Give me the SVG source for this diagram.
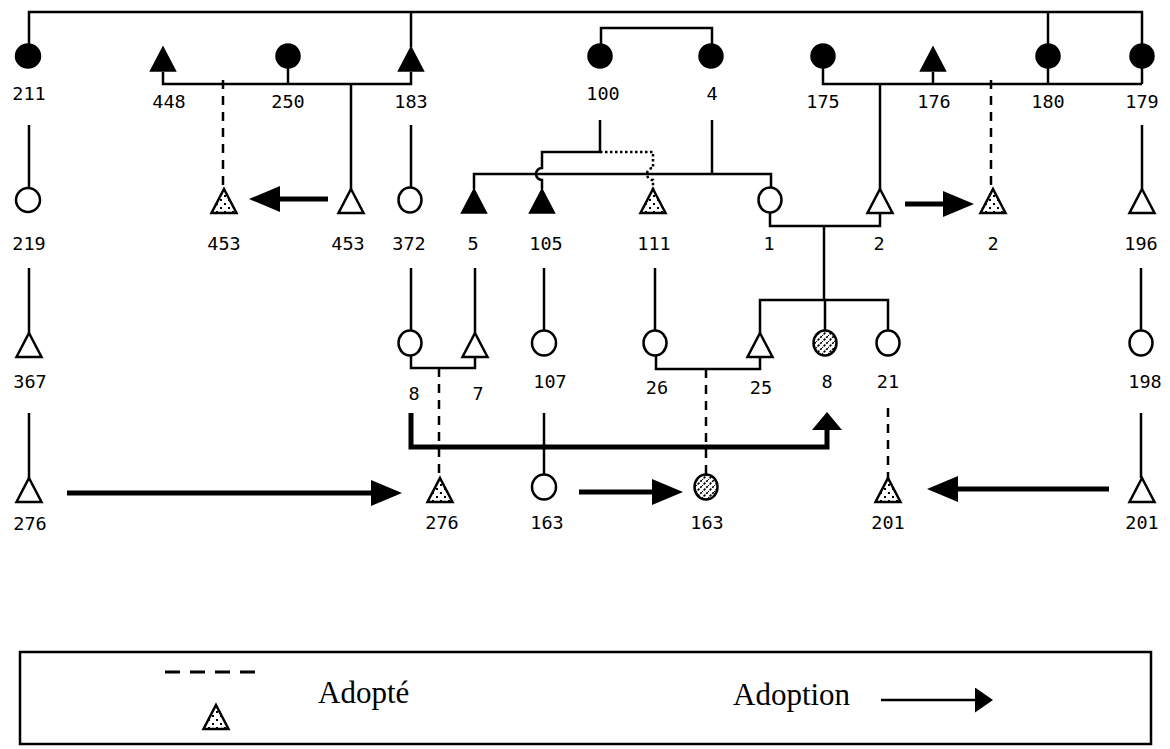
<svg xmlns="http://www.w3.org/2000/svg" xmlns:xlink="http://www.w3.org/1999/xlink" width="1170" height="749" viewBox="0 0 1170 749">
<style>
.ln{stroke:#000;stroke-width:2.5;fill:none}
.thick{stroke:#000;stroke-width:5;fill:none}
.arr{stroke:#000;stroke-width:5;fill:none;marker-end:url(#ah)}
.dash{stroke:#000;stroke-width:2.5;fill:none;stroke-dasharray:9 7}
.dot{stroke:#000;stroke-width:2.5;fill:none;stroke-dasharray:2.5 2.5}
.open{fill:#fff;stroke:#000;stroke-width:2.5}
.full{fill:#000;stroke:#000;stroke-width:1.5}
.hT{fill:url(#hatchT);stroke:#000;stroke-width:2.5}
.hC{fill:url(#hatchC);stroke:#000;stroke-width:2.5}
.lbl{font-family:"DejaVu Sans Mono","Liberation Mono",monospace;font-size:18.5px;text-anchor:middle;fill:#000}
.leg{font-family:"Liberation Serif","Times New Roman",serif;font-size:31px;fill:#000}
</style>
<defs>
<path id="tri" d="M0,0 L12.5,24 L-12.5,24 Z"/>
<pattern id="hatchT" patternUnits="userSpaceOnUse" width="8" height="8">
<rect width="8" height="8" fill="#fff"/>
<rect x="0" y="6" width="2" height="2" fill="#000"/>
<rect x="4" y="2" width="2" height="2" fill="#000"/>
</pattern>
<pattern id="hatchC" patternUnits="userSpaceOnUse" width="6" height="6">
<rect width="6" height="6" fill="#fff"/>
<path d="M-1,7 L7,-1" stroke="#000" stroke-width="1.6" stroke-dasharray="2.5 1.2"/>
</pattern>
<marker id="ah" markerUnits="userSpaceOnUse" viewBox="0 -13 31 26" refX="0" refY="0" markerWidth="31" markerHeight="26" orient="auto">
<path d="M0,-13 L31,0 L0,13 Z" fill="#000"/>
</marker>
<marker id="ahUp" markerUnits="userSpaceOnUse" viewBox="0 -15 18 30" refX="0" refY="0" markerWidth="18" markerHeight="30" orient="auto">
<path d="M0,-15 L18,0 L0,15 Z" fill="#000"/>
</marker>
<marker id="ahSm" markerUnits="userSpaceOnUse" viewBox="0 -12.5 18 25" refX="0" refY="0" markerWidth="18" markerHeight="25" orient="auto">
<path d="M0,-12.5 L18,0 L0,12.5 Z" fill="#000"/>
</marker>
</defs>
<rect width="1170" height="749" fill="#fff"/>

<g id="connectors">
<path class="ln" d="M29,44 V12 H1142 V84"/>
<path class="ln" d="M411,12 V47"/>
<path class="ln" d="M1048,12 V84"/>
<path class="ln" d="M163,72 V84 H411 V72"/>
<path class="ln" d="M288,68 V84"/>
<path class="ln" d="M351,84 V189"/>
<path class="dash" d="M223,80 V189"/>
<path class="ln" d="M601,44 V28 H712 V44"/>
<path class="ln" d="M823,68 V84 H1142"/>
<path class="ln" d="M933,72 V84"/>
<path class="ln" d="M880,84 V189"/>
<path class="dash" d="M991,80 V189"/>
<path class="ln" d="M29,125 V188"/>
<path class="ln" d="M411,125 V188"/>
<path class="ln" d="M1142,125 V189"/>
<path class="ln" d="M600,120 V152 H542 V168 A6,6 0 0 0 542,180 V189"/>
<path class="dot" d="M600,152 H653 V168 A6,6 0 0 0 653,180 V189"/>
<path class="ln" d="M712,120 V174"/>
<path class="ln" d="M474,189 V174 H771 V188"/>
<path class="ln" d="M770,212 V226 H880 V213"/>
<path class="ln" d="M824,226 V300"/>
<path class="ln" d="M760,333 V300 H888 V331"/>
<path class="ln" d="M825,300 V331"/>
<path class="ln" d="M29,268 V333"/>
<path class="ln" d="M411,268 V331"/>
<path class="ln" d="M475,268 V333"/>
<path class="ln" d="M544,268 V331"/>
<path class="ln" d="M655,268 V331"/>
<path class="ln" d="M1141,268 V331"/>
<path class="ln" d="M411,355 V368 H475 V357"/>
<path class="dash" d="M439,368 V478"/>
<path class="ln" d="M656,355 V369 H760 V357"/>
<path class="dash" d="M706,369 V475"/>
<path class="dash" d="M888,408 V478"/>
<path class="ln" d="M29,413 V478"/>
<path class="ln" d="M544,413 V475"/>
<path class="ln" d="M1141,413 V478"/>
<path class="thick" d="M411,413 V447 H827 V430" marker-end="url(#ahUp)"/>
<path class="arr" d="M328,199 H280"/>
<path class="arr" d="M905,204 H943"/>
<path class="arr" d="M67,493 H371"/>
<path class="arr" d="M579,492 H652"/>
<path class="arr" d="M1109,489 H958"/>
</g>

<g id="n211"><ellipse class="full" cx="28" cy="56" rx="12.5" ry="12"/><text class="lbl" x="29" y="100">211</text></g>
<g id="n448"><use href="#tri" xlink:href="#tri" class="full" x="163" y="47"/><text class="lbl" x="169" y="108">448</text></g>
<g id="n250"><ellipse class="full" cx="288" cy="56" rx="12" ry="12"/><text class="lbl" x="288" y="108">250</text></g>
<g id="n183"><use href="#tri" xlink:href="#tri" class="full" x="411" y="47"/><text class="lbl" x="411" y="108">183</text></g>
<g id="n100"><ellipse class="full" cx="600" cy="56" rx="12" ry="12"/><text class="lbl" x="603" y="100">100</text></g>
<g id="n4"><ellipse class="full" cx="711" cy="56" rx="12" ry="12"/><text class="lbl" x="712" y="100">4</text></g>
<g id="n175"><ellipse class="full" cx="823" cy="56" rx="12" ry="12"/><text class="lbl" x="823" y="108">175</text></g>
<g id="n176"><use href="#tri" xlink:href="#tri" class="full" x="933" y="47"/><text class="lbl" x="934" y="108">176</text></g>
<g id="n180"><ellipse class="full" cx="1048" cy="56" rx="12" ry="12"/><text class="lbl" x="1048" y="108">180</text></g>
<g id="n179"><ellipse class="full" cx="1142" cy="56" rx="12" ry="12"/><text class="lbl" x="1142" y="108">179</text></g>

<g id="n219"><ellipse class="open" cx="28" cy="200" rx="12" ry="12"/><text class="lbl" x="29" y="250">219</text></g>
<g id="n453a"><use href="#tri" xlink:href="#tri" class="hT" x="224" y="189"/><text class="lbl" x="224" y="250">453</text></g>
<g id="n453"><use href="#tri" xlink:href="#tri" class="open" x="351" y="189"/><text class="lbl" x="348" y="250">453</text></g>
<g id="n372"><ellipse class="open" cx="410" cy="200" rx="11.5" ry="12.5"/><text class="lbl" x="409" y="250">372</text></g>
<g id="n5"><use href="#tri" xlink:href="#tri" class="full" x="474" y="189"/><text class="lbl" x="473" y="250">5</text></g>
<g id="n105"><use href="#tri" xlink:href="#tri" class="full" x="542" y="189"/><text class="lbl" x="546" y="250">105</text></g>
<g id="n111"><use href="#tri" xlink:href="#tri" class="hT" x="653" y="189"/><text class="lbl" x="654" y="250">111</text></g>
<g id="n1"><ellipse class="open" cx="770" cy="200" rx="11.5" ry="12.5"/><text class="lbl" x="769" y="250">1</text></g>
<g id="n2"><use href="#tri" xlink:href="#tri" class="open" x="880" y="189"/><text class="lbl" x="879" y="250">2</text></g>
<g id="n2a"><use href="#tri" xlink:href="#tri" class="hT" x="993" y="189"/><text class="lbl" x="993" y="250">2</text></g>
<g id="n196"><use href="#tri" xlink:href="#tri" class="open" x="1142" y="189"/><text class="lbl" x="1141" y="250">196</text></g>

<g id="n367"><use href="#tri" xlink:href="#tri" class="open" x="29" y="333"/><text class="lbl" x="30" y="388">367</text></g>
<g id="n8"><ellipse class="open" cx="410" cy="343" rx="11.5" ry="12.5"/><text class="lbl" x="414" y="400">8</text></g>
<g id="n7"><use href="#tri" xlink:href="#tri" class="open" x="475" y="333"/><text class="lbl" x="478" y="400">7</text></g>
<g id="n107"><ellipse class="open" cx="544" cy="343" rx="12" ry="12.5"/><text class="lbl" x="550" y="388">107</text></g>
<g id="n26"><ellipse class="open" cx="655" cy="343" rx="11.5" ry="12.5"/><text class="lbl" x="657" y="394">26</text></g>
<g id="n25"><use href="#tri" xlink:href="#tri" class="open" x="760" y="333"/><text class="lbl" x="761" y="394">25</text></g>
<g id="n8h"><ellipse class="hC" cx="825" cy="343" rx="11.5" ry="12.5"/><text class="lbl" x="827" y="388">8</text></g>
<g id="n21"><ellipse class="open" cx="888" cy="343" rx="11.5" ry="12.5"/><text class="lbl" x="888" y="388">21</text></g>
<g id="n198"><ellipse class="open" cx="1141" cy="343" rx="11.5" ry="12.5"/><text class="lbl" x="1145" y="388">198</text></g>

<g id="n276"><use href="#tri" xlink:href="#tri" class="open" x="29" y="478"/><text class="lbl" x="30" y="530">276</text></g>
<g id="n276a"><use href="#tri" xlink:href="#tri" class="hT" x="440" y="478"/><text class="lbl" x="442" y="529">276</text></g>
<g id="n163"><ellipse class="open" cx="544" cy="487" rx="12" ry="12.5"/><text class="lbl" x="547" y="529">163</text></g>
<g id="n163h"><ellipse class="hC" cx="706" cy="487" rx="11.5" ry="12.5"/><text class="lbl" x="707" y="529">163</text></g>
<g id="n201a"><use href="#tri" xlink:href="#tri" class="hT" x="888" y="478"/><text class="lbl" x="888" y="529">201</text></g>
<g id="n201"><use href="#tri" xlink:href="#tri" class="open" x="1142" y="478"/><text class="lbl" x="1142" y="529">201</text></g>

<g id="legend">
<rect x="20" y="652" width="1131" height="92" fill="none" stroke="#000" stroke-width="2.5"/>
<path d="M165,672 H263" stroke="#000" stroke-width="3" fill="none" stroke-dasharray="15 10"/>
<use href="#tri" xlink:href="#tri" class="hT" x="216" y="705"/>
<text class="leg" x="318" y="703">Adopté</text>
<text class="leg" x="733" y="705">Adoption</text>
<path class="ln" d="M881,700 H975" marker-end="url(#ahSm)"/>
</g>
</svg>
